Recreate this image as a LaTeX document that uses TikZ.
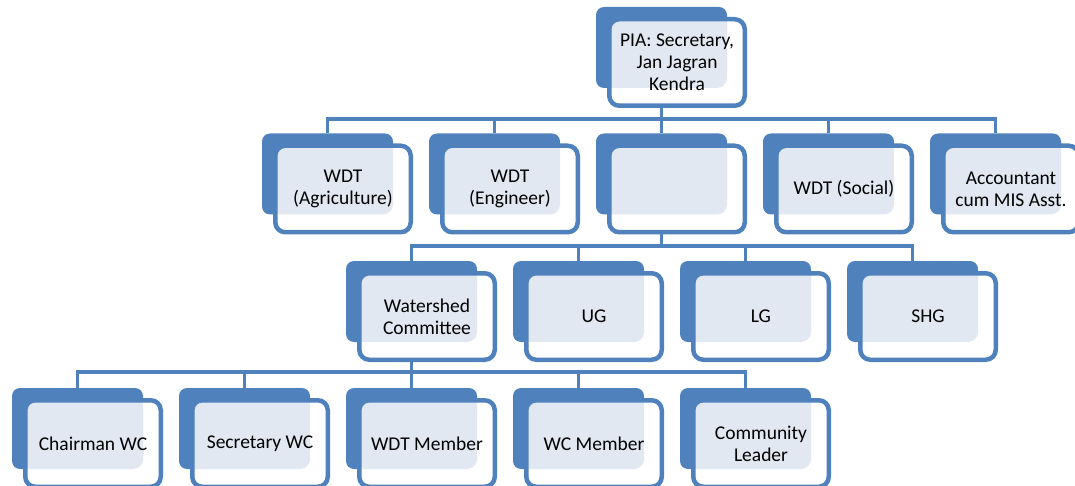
\documentclass[tikz,border=0pt]{standalone}
\usepackage{fontspec}
\setmainfont{Carlito}
\definecolor{ob}{HTML}{4F81BD}
\definecolor{texc}{HTML}{E1E8F2}
\pgfdeclarelayer{background}
\pgfsetlayers{background,main}
\tikzset{
  backbox/.style={fill=ob, draw=none, rounded corners=8pt, minimum width=131pt, minimum height=81pt, inner sep=0pt, outer sep=0pt},
  frontbox/.style={draw=ob, line width=4.5pt, fill=white, rounded corners=10pt,
    minimum width=135.5pt, minimum height=86.5pt, inner sep=0pt, align=center,
    font=\fontsize{19.5}{22}\selectfont, text=black,
    path picture={\fill[texc] ([shift={(-80,-50)}]path picture bounding box.center) rectangle ([shift={(50,25.5)}]path picture bounding box.center);}},
  conn/.style={draw=ob, line width=3.5pt},
}
\newcommand{\obox}[4]{%
  \node[backbox] (#1-b) at (#2,#3) {};
  \node[frontbox] (#1) at ([shift={(15.5,15)}]#1-b.center) {#4};
}
\begin{document}
\begin{tikzpicture}[x=1pt,y=-1pt]
\useasboundingbox (0,0) rectangle (1075,486);
\clip (0,0) rectangle (1075,486);
% level 1
\obox{pia}{661.5}{47.5}{PIA: Secretary,\\Jan Jagran\\Kendra}
% level 2
\obox{agri}{327.5}{174}{WDT\\(Agriculture)}
\obox{engg}{494.5}{174}{WDT\\(Engineer)}
\obox{blank}{661.5}{174}{}
\obox{social}{828.5}{174}{WDT (Social)}
\obox{acct}{995.5}{174}{Accountant\\cum MIS Asst.}
% level 3
\obox{wc}{411.5}{301.5}{Watershed\\Committee}
\obox{ug}{578.5}{301.5}{UG}
\obox{lg}{745.5}{301.5}{LG}
\obox{shg}{912.5}{301.5}{SHG}
% level 4
\obox{chair}{77.5}{428.5}{Chairman WC}
\obox{secy}{244.5}{428.5}{Secretary WC}
\obox{wdtm}{411.5}{428.5}{WDT Member}
\obox{wcm}{578.5}{428.5}{WC Member}
\obox{comm}{745.5}{428.5}{Community\\Leader}
% buses
\coordinate (bus1) at (0,119);
\coordinate (bus2) at (0,246);
\coordinate (bus3) at (0,372);
\begin{pgfonlayer}{background}
\foreach \c in {agri,engg,blank,social,acct}
  \draw[conn] (pia-b.south) -- (pia-b.south |- bus1) -| (\c-b.north);
\foreach \c in {wc,ug,lg,shg}
  \draw[conn] (blank-b.south) -- (blank-b.south |- bus2) -| (\c-b.north);
\foreach \c in {chair,secy,wdtm,wcm,comm}
  \draw[conn] (wc-b.south) -- (wc-b.south |- bus3) -| (\c-b.north);
\end{pgfonlayer}
\end{tikzpicture}
\end{document}
